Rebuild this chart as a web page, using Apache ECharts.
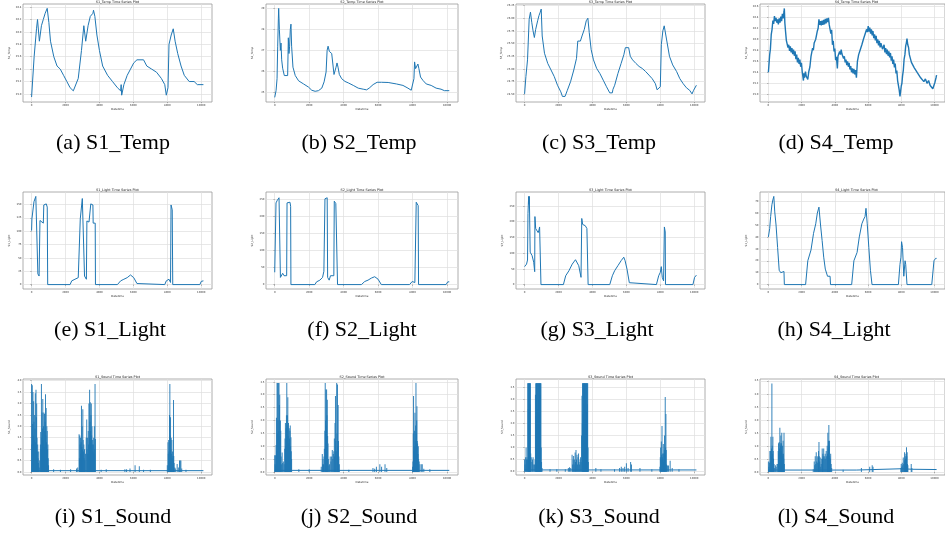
<!DOCTYPE html>
<html>
<head>
<meta charset="utf-8">
<title>Sensor time series</title>
<script src="https://cdn.jsdelivr.net/npm/echarts@6/dist/echarts.min.js"></script>
<style>
html, body { margin: 0; padding: 0; background: #fff; }
#main { width: 945px; height: 535px; }
</style>
</head>
<body>
<div id="main"></div>
<script type="text/javascript">
// ---- data (index, value) ----
var xTicks = [0, 2000, 4000, 6000, 8000, 10000];

var s1Temp = [[0,24.95],[150,25.6],[290,26.05],[350,26.2],[460,25.85],[580,26.1],[690,26.2],[800,26.3],[920,26.38],[1020,26.15],[1115,25.85],[1310,25.6],[1500,25.45],[1690,25.4],[1885,25.3],[2080,25.2],[2270,25.1],[2460,25.05],[2560,25.05],[2750,25.25],[2940,25.7],[3080,26.1],[3190,25.85],[3330,26.1],[3460,26.25],[3615,26.3],[3650,26.35],[3730,26.25],[3850,25.95],[4000,25.7],[4190,25.45],[4480,25.3],[4770,25.2],[5060,25.1],[5250,25.05],[5280,25.15],[5310,24.98],[5440,25.15],[5635,25.3],[5830,25.4],[6020,25.5],[6210,25.55],[6600,25.55],[6790,25.45],[7080,25.4],[7365,25.35],[7650,25.25],[7850,25.15],[7940,24.98],[8040,25.1],[8100,25.8],[8230,25.95],[8350,26.05],[8460,25.85],[8615,25.65],[8810,25.45],[9000,25.3],[9290,25.2],[9580,25.2],[9770,25.15],[10128,25.15]];

var s2Temp = [[0,24.76],[77,25.08],[135,25.65],[173,27.2],[212,28.5],[230,29.0],[270,28.0],[327,27.0],[365,27.35],[404,26.55],[460,26.15],[557,25.8],[673,25.73],[750,25.8],[790,27.6],[827,26.85],[865,27.2],[904,28.0],[942,28.25],[980,27.2],[1058,26.2],[1192,25.8],[1385,25.55],[1673,25.4],[1960,25.25],[2150,25.1],[2346,25.05],[2538,25.08],[2730,25.2],[2865,25.5],[2980,25.97],[3040,27.0],[3096,27.2],[3170,26.95],[3307,26.85],[3400,26.8],[3440,25.85],[3500,25.9],[3558,26.2],[3615,26.4],[3673,26.2],[3750,25.85],[3885,25.65],[4077,25.52],[4270,25.45],[4558,25.33],[4846,25.2],[5135,25.15],[5330,25.12],[5480,25.2],[5710,25.37],[5940,25.48],[6190,25.48],[6580,25.47],[7060,25.4],[7440,25.33],[7730,25.2],[7920,25.1],[8020,25.08],[8077,25.65],[8115,26.45],[8173,26.13],[8250,26.13],[8308,26.35],[8365,26.13],[8460,25.73],[8600,25.57],[8790,25.4],[9077,25.33],[9365,25.2],[9650,25.15],[9846,25.08],[10128,25.08]];

var s3Temp = [[0,24.51],[77,24.85],[173,25.18],[270,25.98],[346,26.12],[423,25.92],[500,25.75],[577,25.62],[654,25.78],[770,25.95],[846,26.05],[923,26.12],[980,26.18],[1038,25.65],[1173,25.31],[1365,25.11],[1558,24.98],[1750,24.85],[1940,24.68],[2135,24.55],[2230,24.46],[2385,24.46],[2520,24.58],[2710,24.75],[2900,24.98],[3060,25.21],[3135,25.55],[3290,25.55],[3385,25.65],[3520,25.78],[3635,25.95],[3730,26.0],[3810,25.72],[3925,25.38],[4060,25.18],[4250,25.01],[4440,24.91],[4635,24.78],[4830,24.65],[5020,24.53],[5170,24.53],[5210,24.6],[5310,24.68],[5500,24.91],[5690,25.11],[5850,25.28],[5940,25.42],[6040,25.43],[6135,25.42],[6230,25.25],[6365,25.18],[6560,25.11],[6750,25.05],[6940,25.01],[7135,24.95],[7330,24.88],[7520,24.81],[7710,24.71],[7810,24.59],[7900,24.59],[8000,24.65],[8060,25.48],[8150,25.75],[8230,25.85],[8290,25.88],[8385,25.55],[8540,25.25],[8730,25.08],[8960,24.95],[9150,24.81],[9350,24.71],[9540,24.63],[9730,24.58],[9870,24.51],[9960,24.58],[10128,24.68]];

var s4Temp = [[0,25.4],[77,25.72],[120,25.82],[172,26.09],[220,26.18],[268,26.34],[316,26.28],[364,26.42],[412,26.33],[460,26.39],[508,26.3],[555,26.36],[600,26.27],[650,26.38],[700,26.3],[746,26.41],[794,26.33],[842,26.46],[890,26.38],[938,26.5],[960,26.56],[990,26.3],[1033,26.14],[1080,25.98],[1129,25.97],[1177,25.85],[1225,25.9],[1272,25.79],[1320,25.87],[1368,25.76],[1416,25.84],[1464,25.73],[1512,25.81],[1560,25.7],[1608,25.78],[1655,25.64],[1703,25.72],[1750,25.58],[1800,25.66],[1848,25.55],[1895,25.63],[1943,25.5],[1990,25.57],[2040,25.4],[2086,25.3],[2110,25.25],[2133,25.38],[2180,25.3],[2230,25.41],[2278,25.33],[2325,25.36],[2373,25.27],[2430,25.41],[2500,25.5],[2565,25.69],[2612,25.7],[2660,25.84],[2707,25.8],[2755,25.93],[2800,25.9],[2850,26.0],[2900,26.02],[2947,26.15],[2995,26.2],[3043,26.36],[3090,26.26],[3139,26.33],[3186,26.25],[3234,26.34],[3282,26.26],[3330,26.35],[3378,26.27],[3426,26.37],[3474,26.29],[3522,26.38],[3570,26.31],[3617,26.39],[3665,26.26],[3713,26.29],[3760,26.1],[3809,26.17],[3856,25.9],[3904,25.97],[3952,25.78],[4000,25.83],[4048,25.62],[4096,25.68],[4153,25.47],[4190,25.69],[4240,25.7],[4287,25.78],[4335,25.72],[4383,25.81],[4430,25.73],[4479,25.75],[4526,25.65],[4574,25.69],[4622,25.58],[4670,25.63],[4718,25.53],[4766,25.6],[4813,25.5],[4861,25.57],[4909,25.45],[4957,25.51],[5005,25.4],[5053,25.47],[5100,25.38],[5148,25.46],[5196,25.36],[5244,25.44],[5300,25.3],[5360,25.6],[5400,25.62],[5435,25.72],[5483,25.7],[5531,25.81],[5580,25.79],[5627,25.9],[5675,25.89],[5722,26.0],[5770,25.98],[5818,26.09],[5866,26.06],[5914,26.18],[5962,26.13],[6010,26.24],[6058,26.14],[6105,26.21],[6152,26.1],[6200,26.18],[6248,26.07],[6296,26.15],[6344,26.02],[6392,26.09],[6440,25.98],[6488,26.06],[6536,25.93],[6584,26.0],[6632,25.89],[6680,25.97],[6728,25.85],[6775,25.93],[6870,25.82],[6966,25.9],[7014,25.76],[7062,25.84],[7110,25.73],[7158,25.81],[7206,25.7],[7254,25.78],[7300,25.67],[7349,25.75],[7397,25.61],[7445,25.69],[7492,25.55],[7540,25.63],[7588,25.49],[7636,25.56],[7684,25.38],[7732,25.43],[7780,25.25],[7828,25.27],[7875,25.08],[7923,24.96],[7940,24.94],[7960,25.05],[8000,25.15],[8040,25.2],[8077,25.33],[8125,25.44],[8172,25.64],[8220,25.72],[8268,25.88],[8306,25.93],[8345,26.01],[8392,25.9],[8440,25.85],[8488,25.72],[8536,25.7],[8612,25.58],[8689,25.61],[8785,25.48],[8880,25.5],[8976,25.39],[9072,25.4],[9168,25.3],[9263,25.31],[9360,25.23],[9455,25.28],[9550,25.2],[9646,25.25],[9742,25.16],[9837,25.19],[9900,25.1],[9970,25.12],[10030,25.22],[10100,25.31],[10128,25.35]];

var s1Light = [[0,101],[20,123],[115,123],[140,155],[211,157],[250,165],[346,165],[370,20],[442,16],[480,13],[495,120],[577,117],[692,115],[720,149],[865,151],[923,145],[950,0],[2270,0],[2365,7],[2557,10],[2750,13],[2846,16],[2870,123],[2961,125],[2990,161],[3096,164],[3120,16],[3230,10],[3260,119],[3385,117],[3461,117],[3490,151],[3615,149],[3630,115],[3750,115],[3765,0],[5060,0],[5250,7],[5440,10],[5635,13],[5830,18],[5920,19],[6020,13],[6210,2],[6300,0],[7850,0],[7940,7],[8100,10],[8190,4],[8220,149],[8290,140],[8320,0],[9920,0],[10000,6],[10128,7]];

var s2Light = [[0,36],[58,31],[75,239],[154,247],[250,254],[308,258],[330,21],[423,16],[462,33],[540,26],[693,26],[715,239],[808,237],[885,241],[923,229],[940,0],[2330,0],[2427,8],[2620,13],[2775,21],[2852,39],[2890,41],[2915,251],[3044,254],[3070,21],[3160,13],[3237,26],[3430,26],[3455,244],[3545,237],[3622,237],[3645,0],[5029,0],[5222,9],[5414,13],[5607,19],[5800,23],[5896,26],[5992,16],[6185,0],[7823,0],[7977,9],[8054,13],[8131,6],[8189,2],[8210,241],[8324,231],[8345,0],[9942,0],[10039,8],[10128,8]];

var s3Light = [[0,57],[115,65],[173,78],[200,226],[240,280],[260,255],[280,280],[308,278],[330,103],[442,92],[538,71],[596,41],[610,216],[654,178],[731,178],[800,165],[846,173],[885,183],[942,178],[965,0],[2288,0],[2423,28],[2615,44],[2808,65],[3000,79],[3096,85],[3192,60],[3327,23],[3370,210],[3423,191],[3577,187],[3673,178],[3730,178],[3745,0],[5020,0],[5173,28],[5308,44],[5500,60],[5692,76],[5846,87],[5923,76],[6038,49],[6173,6],[6212,0],[7770,0],[7904,28],[8000,39],[8058,57],[8115,23],[8192,12],[8240,183],[8290,167],[8305,0],[9923,0],[10020,23],[10128,30]];

var s4Light = [[0,40],[77,47],[134,57],[211,67],[268,71],[326,74],[383,61],[460,50],[555,31],[650,12],[746,10],[938,11],[960,0],[2240,0],[2373,20],[2565,29],[2718,43],[2851,51],[2947,60],[3043,65],[3139,50],[3234,37],[3330,23],[3426,13],[3560,7],[3713,7],[3740,0],[5014,0],[5148,20],[5340,27],[5474,40],[5627,51],[5742,55],[5818,57],[5876,64],[5952,51],[6048,31],[6144,12],[6240,0],[7828,0],[7923,17],[7981,23],[8019,36],[8077,31],[8153,7],[8230,20],[8268,17],[8345,0],[9837,0],[9971,20],[10067,22],[10128,22]];

// sound: quiet baseline plus spikes (index, peak)
var s1SoundBase = [[0,0.06],[10128,0.06]];
var s1Sound = [[0,3.85],[20,1.2],[40,3.8],[60,2.1],[80,3.5],[100,1.6],[120,3.1],[140,2.2],[160,1.4],[180,2.5],[200,1.9],[220,3.45],[240,1.3],[260,3.6],[280,2.4],[300,3.0],[320,1.5],[340,0.9],[360,1.2],[380,0.6],[400,0.4],[420,0.9],[450,0.2],[480,0.5],[520,1.2],[540,1.75],[560,1.0],[580,3.85],[600,1.5],[620,2.6],[640,1.9],[660,3.2],[680,1.4],[700,2.0],[720,2.6],[740,1.1],[760,2.55],[780,1.8],[800,2.2],[820,3.4],[840,1.6],[860,2.8],[880,1.3],[900,2.0],[920,1.8],[940,1.0],[960,1.2],[980,0.6],[1000,0.3],[1300,0.12],[1700,0.1],[2300,0.12],[2650,0.15],[2720,0.2],[2800,1.65],[2820,0.6],[2840,1.6],[2860,1.2],[2880,1.5],[2900,0.8],[2920,1.3],[2940,2.9],[2960,1.1],[2980,2.0],[3000,1.0],[3020,2.75],[3040,1.4],[3060,0.9],[3080,1.2],[3100,0.6],[3120,1.0],[3140,0.5],[3180,0.8],[3220,1.5],[3250,2.3],[3270,1.0],[3290,1.5],[3310,0.8],[3340,1.8],[3360,1.2],[3380,3.0],[3400,1.5],[3420,3.6],[3440,2.2],[3460,3.05],[3480,1.8],[3500,2.5],[3520,3.0],[3540,1.6],[3560,2.0],[3580,1.2],[3600,1.4],[3620,0.9],[3640,1.2],[3660,1.5],[3680,0.8],[3700,2.0],[3720,1.0],[3740,3.85],[3760,1.45],[4100,0.1],[4400,0.12],[5500,0.12],[5600,0.12],[5800,0.15],[6100,0.3],[6350,0.25],[6600,0.1],[7000,0.1],[8000,0.3],[8040,1.3],[8060,0.8],[8080,1.4],[8100,0.9],[8130,2.5],[8150,3.85],[8170,1.6],[8190,2.4],[8210,1.0],[8230,1.5],[8250,0.8],[8270,1.4],[8290,0.6],[8310,0.9],[8330,0.7],[8350,0.5],[8365,3.15],[8380,0.7],[8400,0.4],[8440,0.2],[8470,0.15],[8580,0.35],[8650,0.2],[8720,0.5],[8760,0.5],[8800,0.5],[8850,0.15],[9100,0.1]];

var s2SoundBase = [[0,0.06],[10128,0.06]];
var s2Sound = [[0,0.65],[20,0.3],[40,0.65],[60,0.25],[80,1.05],[100,2.1],[120,0.8],[135,3.45],[150,1.5],[170,3.45],[190,2.0],[210,3.45],[230,1.6],[250,3.45],[270,2.6],[290,3.0],[310,1.4],[330,2.0],[350,1.6],[370,0.6],[400,0.3],[430,0.75],[460,0.35],[500,0.4],[550,0.3],[580,0.9],[600,1.3],[620,1.9],[640,1.0],[660,1.7],[680,2.2],[700,3.45],[720,1.8],[740,2.2],[760,2.9],[780,1.4],[800,1.9],[820,1.1],[840,1.7],[860,1.3],[880,1.6],[900,1.8],[920,1.0],[940,1.35],[960,0.8],[980,0.5],[1400,0.1],[2000,0.1],[2700,0.2],[2760,0.7],[2780,0.3],[2800,0.5],[2830,0.3],[2860,0.6],[2880,0.9],[2910,1.6],[2930,3.45],[2950,2.0],[2970,3.2],[2990,1.8],[3010,3.2],[3030,2.2],[3050,2.8],[3070,1.4],[3090,1.1],[3110,0.5],[3140,0.25],[3180,0.3],[3220,0.6],[3260,0.4],[3300,0.6],[3340,0.85],[3370,0.5],[3400,0.7],[3430,0.8],[3460,1.3],[3480,0.6],[3500,1.9],[3525,2.95],[3545,1.2],[3570,0.8],[3595,3.45],[3615,1.5],[3640,3.4],[3660,1.0],[3680,2.6],[3700,1.2],[3720,0.6],[3750,0.3],[4300,0.08],[5700,0.15],[5800,0.12],[5900,0.2],[6100,0.3],[6200,0.2],[6400,0.3],[6500,0.15],[8000,0.2],[8020,0.4],[8040,1.5],[8055,2.95],[8075,0.8],[8095,1.0],[8115,1.6],[8135,2.3],[8155,1.2],[8175,1.8],[8195,3.45],[8215,1.5],[8235,2.0],[8250,2.55],[8270,1.2],[8290,1.1],[8310,0.7],[8330,1.0],[8350,0.5],[8380,0.4],[8420,0.3],[8500,0.3],[8560,0.3],[8650,0.12],[9000,0.1]];

var s3SoundBase = [[0,0.07],[10128,0.07]];
var s3Sound = [[0,0.5],[30,0.3],[60,0.6],[90,1.0],[110,0.5],[140,0.6],[170,0.5],[190,3.67],[205,3.67],[220,2.6],[235,3.67],[250,3.67],[265,3.0],[280,3.67],[295,3.67],[310,2.8],[325,3.67],[340,3.67],[360,0.75],[390,0.6],[430,0.4],[470,0.5],[500,0.6],[540,0.3],[580,0.3],[620,0.5],[640,3.2],[660,3.67],[675,2.3],[690,3.67],[705,3.67],[720,3.0],[735,3.67],[750,3.67],[765,2.6],[780,3.67],[795,3.67],[810,3.67],[825,3.0],[840,3.67],[855,3.67],[870,2.4],[885,3.67],[900,3.67],[915,3.67],[930,3.2],[945,3.67],[960,3.67],[980,1.0],[1000,0.4],[1030,0.15],[1500,0.1],[1900,0.1],[2400,0.1],[2580,0.15],[2650,0.18],[2720,0.15],[2800,0.7],[2830,0.3],[2860,0.5],[2890,0.65],[2920,0.3],[2950,0.5],[2980,0.8],[3000,0.4],[3030,0.9],[3060,0.5],[3090,0.7],[3120,0.3],[3150,0.6],[3180,0.75],[3210,0.4],[3240,0.3],[3270,0.5],[3300,0.6],[3330,0.4],[3360,1.5],[3385,3.15],[3405,2.0],[3420,3.67],[3435,3.67],[3450,2.4],[3465,3.67],[3480,3.67],[3495,2.8],[3510,3.67],[3525,3.67],[3540,3.67],[3555,2.2],[3570,3.67],[3585,3.67],[3600,3.0],[3615,3.67],[3630,3.67],[3645,2.5],[3660,3.67],[3675,3.67],[3690,3.67],[3705,2.8],[3720,3.67],[3740,1.0],[3760,0.4],[4200,0.15],[4500,0.1],[5300,0.1],[5600,0.15],[5700,0.2],[5800,0.15],[5900,0.2],[6000,0.35],[6100,0.15],[6250,0.4],[6300,0.3],[6800,0.15],[7500,0.1],[7980,0.2],[8000,0.6],[8020,1.0],[8040,0.5],[8060,1.25],[8080,0.7],[8100,1.9],[8120,0.6],[8140,0.75],[8160,0.5],[8175,1.15],[8195,0.75],[8215,0.4],[8235,0.9],[8250,1.5],[8270,0.8],[8290,3.1],[8310,1.0],[8330,2.4],[8350,0.9],[8370,0.3],[8420,0.25],[8480,0.25],[8580,0.45],[8700,0.15],[9100,0.1]];

var s4SoundBase = [[0,0.07],[5290,0.07],[5310,0.12],[8000,0.12],[8700,0.1],[10128,0.09]];
var s4Sound = [[0,0.4],[30,0.2],[60,0.35],[90,0.8],[110,0.4],[130,0.8],[150,1.35],[170,0.6],[190,0.9],[210,3.4],[230,1.0],[250,0.7],[270,1.35],[290,0.8],[310,0.5],[340,0.3],[380,0.15],[420,0.25],[470,0.2],[520,0.3],[560,0.3],[590,0.8],[610,1.1],[630,0.7],[650,1.15],[670,0.9],[690,1.7],[710,1.1],[730,1.0],[750,1.4],[770,0.8],[790,1.1],[805,1.5],[825,0.7],[845,1.0],[865,0.6],[885,1.2],[905,0.7],[925,0.5],[940,1.5],[960,0.3],[2700,0.1],[2760,0.4],[2790,0.25],[2820,0.6],[2850,0.3],[2880,0.75],[2910,0.4],[2940,0.6],[2970,0.35],[3000,0.55],[3020,0.8],[3045,1.15],[3065,0.6],[3090,0.4],[3120,0.55],[3150,0.2],[3180,0.3],[3210,0.5],[3240,0.9],[3260,0.5],[3280,0.7],[3300,0.6],[3330,0.9],[3360,0.5],[3390,0.6],[3420,0.7],[3450,0.5],[3480,0.8],[3510,0.6],[3540,1.0],[3560,0.7],[3580,1.5],[3600,0.9],[3620,1.2],[3640,1.8],[3660,1.0],[3680,1.2],[3700,0.6],[3730,0.5],[3750,0.7],[3780,0.3],[3810,0.15],[4500,0.08],[5600,0.15],[6100,0.2],[6250,0.25],[6300,0.2],[7980,0.15],[8000,0.3],[8030,0.2],[8060,0.35],[8090,0.25],[8120,0.55],[8150,0.3],[8180,0.45],[8200,0.75],[8220,0.4],[8240,0.6],[8260,0.5],[8280,0.7],[8300,0.5],[8315,0.95],[8335,0.6],[8355,0.75],[8375,0.3],[8400,0.25],[8600,0.3],[8640,0.15]];

// y tick values per panel
var s1TempTicks = [25.0, 25.2, 25.4, 25.6, 25.8, 26.0, 26.2, 26.4];
var s2TempTicks = [25, 26, 27, 28, 29];
var s3TempTicks = [24.5, 24.75, 25.0, 25.25, 25.5, 25.75, 26.0, 26.25];
var s4TempTicks = [25.0, 25.2, 25.4, 25.6, 25.8, 26.0, 26.2, 26.4, 26.6];
var s1LightTicks = [0, 25, 50, 75, 100, 125, 150];
var s2LightTicks = [0, 50, 100, 150, 200, 250];
var s3LightTicks = [0, 50, 100, 150, 200, 250];
var s4LightTicks = [0, 10, 20, 30, 40, 50, 60, 70];
var s1SoundTicks = [0, 0.5, 1, 1.5, 2, 2.5, 3, 3.5, 4];
var soundTicks = [0, 0.5, 1, 1.5, 2, 2.5, 3, 3.5];

var panels = [
  { name: 'S1_Temp', tag: 'a', data: s1Temp, yMin: 24.87, yMax: 26.45, ticks: s1TempTicks, dec: 1 },
  { name: 'S2_Temp', tag: 'b', data: s2Temp, yMin: 24.54, yMax: 29.21, ticks: s2TempTicks, dec: 0 },
  { name: 'S3_Temp', tag: 'c', data: s3Temp, yMin: 24.35, yMax: 26.28, ticks: s3TempTicks, dec: 2 },
  { name: 'S4_Temp', tag: 'd', data: s4Temp, yMin: 24.86, yMax: 26.64, ticks: s4TempTicks, dec: 1 },
  { name: 'S1_Light', tag: 'e', data: s1Light, yMin: -8.25, yMax: 173.25, ticks: s1LightTicks, dec: 0 },
  { name: 'S2_Light', tag: 'f', data: s2Light, yMin: -12.9, yMax: 270.9, ticks: s2LightTicks, dec: 0 },
  { name: 'S3_Light', tag: 'g', data: s3Light, yMin: -14, yMax: 294, ticks: s3LightTicks, dec: 0 },
  { name: 'S4_Light', tag: 'h', data: s4Light, yMin: -3.7, yMax: 77.7, ticks: s4LightTicks, dec: 0 },
  { name: 'S1_Sound', tag: 'i', data: s1SoundBase, spikes: s1Sound, yMin: -0.13, yMax: 4.07, ticks: s1SoundTicks, dec: 1 },
  { name: 'S2_Sound', tag: 'j', data: s2SoundBase, spikes: s2Sound, yMin: -0.12, yMax: 3.61, ticks: soundTicks, dec: 1 },
  { name: 'S3_Sound', tag: 'k', data: s3SoundBase, spikes: s3Sound, yMin: -0.14, yMax: 3.85, ticks: soundTicks, dec: 1 },
  { name: 'S4_Sound', tag: 'l', data: s4SoundBase, spikes: s4Sound, yMin: -0.12, yMax: 3.57, ticks: soundTicks, dec: 1 }
];

// layout of the 4 x 3 figure
var cols = [{ l: 23, r: 212 }, { l: 266, r: 458 }, { l: 516, r: 705 }, { l: 760, r: 953 }];
var rows = [{ t: 4, b: 102 }, { t: 192, b: 289 }, { t: 379, b: 475 }];
var capX = [[113, 359, 599, 836], [110, 362, 597, 834], [113, 359, 599, 836]];
var capY = [143, 330, 517];

var blue = '#1f77b4';
var tickFont = { fontSize: 2.6, color: '#333', fontFamily: 'DejaVu Sans' };

var grids = [], xAxes = [], yAxes = [], series = [], graphics = [];

panels.forEach(function (p, i) {
  var c = i % 4, r = Math.floor(i / 4);
  var left = cols[c].l, width = cols[c].r - cols[c].l;
  var top = rows[r].t, height = rows[r].b - rows[r].t;

  grids.push({ left: left, top: top, width: width, height: height,
    show: true, borderColor: '#9a9a9a', borderWidth: 0.8, backgroundColor: 'transparent' });

  xAxes.push({
    gridIndex: i, type: 'value', min: -506, max: 10634,
    name: 'Datetime', nameLocation: 'middle', nameGap: 5,
    nameTextStyle: { fontSize: 2.8, color: '#333', fontFamily: 'DejaVu Sans' },
    axisLine: { show: false },
    axisTick: { show: true, length: 1.2, customValues: xTicks, lineStyle: { color: '#666', width: 0.5 } },
    axisLabel: Object.assign({ margin: 1.5, customValues: xTicks,
      formatter: function (v) { return String(v); } }, tickFont),
    splitLine: { show: true, lineStyle: { color: '#dedede', width: 0.7 } }
  });

  yAxes.push({
    gridIndex: i, type: 'value', min: p.yMin, max: p.yMax,
    name: p.name, nameLocation: 'middle', nameGap: 12, nameRotate: 90,
    nameTextStyle: { fontSize: 2.8, color: '#333', fontFamily: 'DejaVu Sans' },
    axisLine: { show: false },
    axisTick: { show: true, length: 1.2, customValues: p.ticks, lineStyle: { color: '#666', width: 0.5 } },
    axisLabel: Object.assign({ margin: 1.5, customValues: p.ticks,
      formatter: (function (d) { return function (v) { return v.toFixed(d); }; })(p.dec) }, tickFont),
    splitLine: { show: true, lineStyle: { color: '#dedede', width: 0.7 } }
  });

  series.push({
    type: 'line', xAxisIndex: i, yAxisIndex: i, data: p.data,
    showSymbol: false, silent: true,
    lineStyle: { color: blue, width: p.name === 'S4_Temp' ? 1.4 : 1 }
  });
  if (p.spikes) {
    series.push({
      type: 'bar', xAxisIndex: i, yAxisIndex: i, data: p.spikes,
      barWidth: 1, silent: true,
      itemStyle: { color: blue, opacity: 0.9 }
    });
  }

  graphics.push({
    type: 'text', x: left + width / 2, y: top - 0.6,
    style: { text: p.name + ' Time Series Plot', fontSize: 3.4, fill: '#222',
      fontFamily: 'DejaVu Sans', textAlign: 'center', textVerticalAlign: 'bottom' }
  });
  graphics.push({
    type: 'text', x: capX[r][c], y: capY[r],
    style: { text: '(' + p.tag + ') ' + p.name, fontSize: 22, fill: '#000',
      fontFamily: 'Liberation Serif', textAlign: 'center', textVerticalAlign: 'middle' }
  });
});

var myChart = echarts.init(document.getElementById('main'), null, { renderer: 'canvas' });
myChart.setOption({
  animation: false,
  backgroundColor: '#fff',
  grid: grids,
  xAxis: xAxes,
  yAxis: yAxes,
  series: series,
  graphic: graphics
});
</script>
</body>
</html>
